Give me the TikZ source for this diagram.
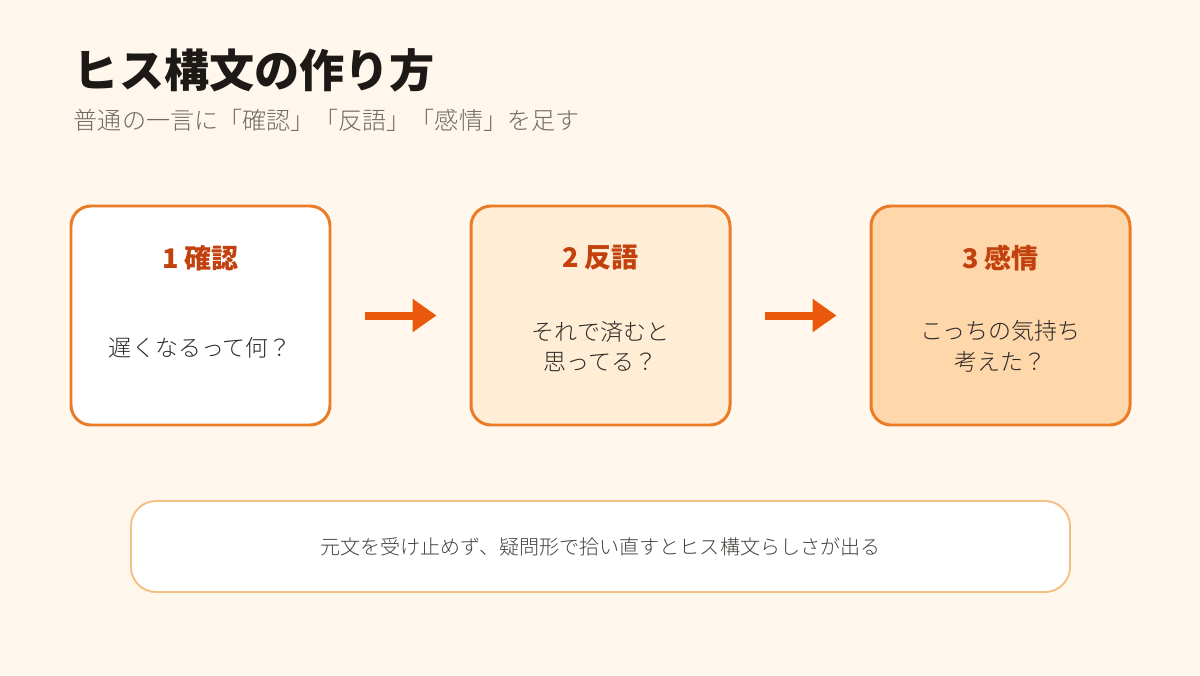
\documentclass[tikz,border=0pt]{standalone}
\usepackage{fontspec}
\setmainfont{Noto Sans CJK JP}
\newfontfamily\lightfont{Noto Sans CJK JP Light}
\usetikzlibrary{arrows.meta}

\definecolor{hisuBackground}{RGB}{255,247,236}
\definecolor{hisuTitle}{RGB}{28,25,23}
\definecolor{hisuSub}{RGB}{110,106,102}
\definecolor{hisuBorder}{RGB}{234,124,40}
\definecolor{hisuHead}{RGB}{194,65,12}
\definecolor{hisuBody}{RGB}{45,42,40}
\definecolor{hisuArrow}{RGB}{234,88,12}
\definecolor{hisuFillOne}{RGB}{255,255,255}
\definecolor{hisuFillTwo}{RGB}{255,237,213}
\definecolor{hisuFillThree}{RGB}{254,215,170}
\definecolor{hisuNoteBorder}{RGB}{245,192,132}
\definecolor{hisuNote}{RGB}{70,66,62}

\begin{document}
\begin{tikzpicture}[x=1cm,y=1cm,
      title/.style={font=\fontsize{25.7}{30}\selectfont\bfseries,
        text=hisuTitle, anchor=west, inner sep=0pt},
      subtitle/.style={font=\fontsize{13.7}{16}\selectfont\lightfont,
        text=hisuSub, anchor=west, inner sep=0pt},
      card/.style={draw=hisuBorder, line width=1.7pt,
        rounded corners=.4cm, minimum width=5.18cm, minimum height=4.38cm},
      head/.style={font=\fontsize{15.4}{18}\selectfont\bfseries,
        text=hisuHead},
      body/.style={font=\fontsize{13.1}{17.6}\selectfont\lightfont,
        text=hisuBody, align=center},
      flow/.style={draw=hisuArrow, line width=4.55pt,
        -{Triangle[length=.48cm,width=.64cm]}},
      note/.style={draw=hisuNoteBorder, fill=white, line width=1.1pt,
        rounded corners=.5cm, minimum width=18.78cm, minimum height=1.82cm,
        font=\fontsize{11.4}{14}\selectfont\lightfont, text=hisuNote}]
      \useasboundingbox (0,0) rectangle (24,13.5);
      \fill[hisuBackground] (0,0) rectangle (24,13.5);

      \node[title] (title) at (1.47,12.1) {ヒス構文の作り方};
      \node[subtitle] (subtitle) at (1.47,11.1)
        {普通の一言に「確認」「反語」「感情」を足す};

      % three steps
      \node[card, fill=hisuFillOne] (kakunin) at (4.01,7.19) {};
      \node[card, fill=hisuFillTwo] (hango) at (12.01,7.19) {};
      \node[card, fill=hisuFillThree] (kanjo) at (20.01,7.19) {};

      \node[head] (kakuninHead) at (4.01,8.34) {1 確認};
      \node[head] (hangoHead) at (12.01,8.34) {2 反語};
      \node[head] (kanjoHead) at (20.01,8.34) {3 感情};

      \node[body] (kakuninBody) at (4.01,6.54) {遅くなるって何？};
      \node[body] (hangoBody) at (12.01,6.57) {それで済むと\\思ってる？};
      \node[body] (kanjoBody) at (20.01,6.57) {こっちの気持ち\\考えた？};

      \draw[flow] ([xshift=.66cm]kakunin.east) -- ([xshift=-.66cm]hango.west);
      \draw[flow] ([xshift=.66cm]hango.east) -- ([xshift=-.66cm]kanjo.west);

      \node[note] (summary) at (12.01,2.57)
        {元文を受け止めず、疑問形で拾い直すとヒス構文らしさが出る};
    \end{tikzpicture}
\end{document}
